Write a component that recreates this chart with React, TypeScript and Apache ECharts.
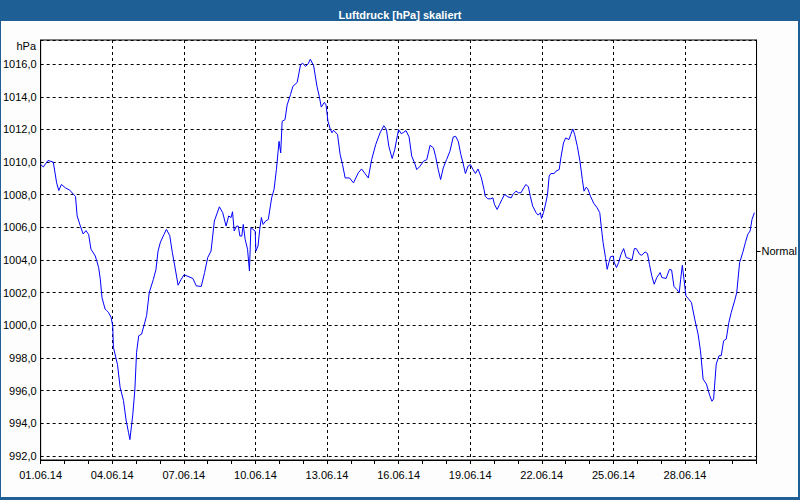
import React, { useEffect, useRef } from "react";
import * as echarts from "echarts";

// time in days since 01.06.14 00:00
const dayOffsets: number[] = [
  0.0, 0.11, 0.31, 0.53, 0.67, 0.76, 0.87, 1.04, 1.22, 1.39, 1.46, 1.53, 1.66, 1.78, 1.9, 2.01, 2.11, 2.29, 2.43, 2.5,
  2.57, 2.7, 2.77, 2.84, 2.95, 3.02, 3.05, 3.22, 3.33, 3.47, 3.58, 3.68, 3.74, 3.86, 3.95, 4.02, 4.11, 4.23, 4.37, 4.44,
  4.55, 4.72, 4.83, 4.92, 5.02, 5.17, 5.27, 5.41, 5.52, 5.62, 5.76, 5.89, 6.01, 6.17, 6.38, 6.52, 6.73, 6.87, 7.0, 7.14,
  7.28, 7.49, 7.63, 7.77, 7.88, 7.98, 8.04, 8.11, 8.21, 8.28, 8.35, 8.43, 8.49, 8.57, 8.67, 8.75, 8.81, 8.9, 8.99, 9.02,
  9.11, 9.18, 9.25, 9.32, 9.43, 9.54, 9.68, 9.78, 9.88, 9.99, 10.06, 10.12, 10.24, 10.33, 10.47, 10.57, 10.75, 10.89, 10.98, 11.1,
  11.21, 11.3, 11.44, 11.58, 11.68, 11.76, 11.89, 11.96, 12.04, 12.14, 12.21, 12.27, 12.44, 12.55, 12.65, 12.76, 12.94, 13.11, 13.31, 13.45,
  13.59, 13.73, 13.87, 14.04, 14.22, 14.38, 14.49, 14.59, 14.73, 14.84, 14.95,
  15.0, 15.11, 15.21, 15.31, 15.44, 15.55, 15.67, 15.76, 15.9, 16.04, 16.18, 16.32, 16.46, 16.55, 16.66, 16.76, 16.87, 17.01, 17.15, 17.29,
  17.39, 17.5, 17.61, 17.7, 17.8, 17.91, 18.01, 18.12, 18.22, 18.33, 18.47, 18.58, 18.63, 18.74, 18.86, 18.95, 19.02, 19.13, 19.23, 19.33,
  19.44, 19.58, 19.72, 19.79, 19.92, 20.02, 20.13, 20.24, 20.34, 20.44, 20.52, 20.62, 20.76, 20.85, 20.94, 20.99, 21.07, 21.17, 21.24, 21.31,
  21.38, 21.52, 21.59, 21.73, 21.8, 21.91, 22.0, 22.14, 22.21, 22.3, 22.38, 22.49, 22.6, 22.7, 22.77, 22.86, 22.93, 23.04, 23.18, 23.32,
  23.43, 23.49, 23.57, 23.67, 23.74, 23.81, 23.88, 23.99, 24.04, 24.13, 24.22, 24.32, 24.43, 24.54, 24.68, 24.78, 24.88, 24.96, 25.1, 25.19,
  25.33, 25.43, 25.51, 25.61, 25.71, 25.82, 25.96, 26.03, 26.21, 26.35, 26.44, 26.54, 26.65, 26.76, 26.82, 26.89, 26.96, 27.04, 27.14, 27.27,
  27.41, 27.55, 27.65, 27.76, 27.9, 28.04, 28.13, 28.2, 28.31, 28.43, 28.52, 28.62, 28.73, 28.84, 28.94, 29.08, 29.17, 29.29, 29.42, 29.53,
  29.63, 29.73, 29.81, 29.91,
];

// air pressure in hPa
const pressure: number[] = [
  1009.85, 1009.7, 1010.1, 1010.0, 1008.73, 1008.26, 1008.63, 1008.42, 1008.28, 1008.0, 1007.9, 1006.7, 1006.1, 1005.6, 1005.8, 1005.57, 1004.66, 1004.25, 1003.54, 1002.83,
  1001.7, 1001.0, 1000.9, 1000.8, 1000.5, 999.97, 998.65, 997.6, 996.2, 995.4, 994.2, 993.45, 993.0, 994.5, 996.1, 998.34, 999.36, 999.46, 1000.2, 1000.6,
  1002.0, 1002.8, 1003.4, 1004.55, 1005.1, 1005.57, 1005.88, 1005.5, 1004.45, 1003.64, 1002.46, 1002.82, 1003.1, 1003.0, 1002.87, 1002.42, 1002.38, 1003.23, 1004.15, 1004.55,
  1006.39, 1007.26, 1006.9, 1006.08, 1006.7, 1006.6, 1006.96, 1005.78, 1006.08, 1006.08, 1005.47, 1005.47, 1006.18, 1005.27, 1004.66, 1003.33, 1005.98, 1005.88, 1005.78, 1004.55,
  1004.86, 1005.88, 1006.6, 1006.18, 1006.39, 1006.49, 1007.81, 1008.32, 1009.54, 1011.27, 1010.56, 1012.5, 1012.6, 1013.5, 1014.13, 1014.64, 1014.88, 1015.96, 1016.06, 1015.86,
  1016.02, 1016.3, 1015.9, 1014.64, 1014.0, 1013.37, 1013.66, 1013.5, 1012.5, 1012.0, 1011.8, 1011.95, 1011.7, 1010.46, 1009.85, 1009.03, 1009.03, 1008.73, 1009.34, 1009.58,
  1009.3, 1009.03, 1010.15, 1011.07, 1011.78, 1012.23, 1012.0, 1010.97, 1010.22, 1010.77, 1011.62,
  1011.99, 1011.74, 1011.82, 1011.93, 1011.54, 1010.36, 1009.95, 1009.54, 1009.75, 1010.05, 1010.15, 1011.03, 1010.87, 1010.36, 1009.54, 1008.93, 1009.64, 1010.15, 1010.66, 1011.54,
  1011.58, 1011.27, 1010.46, 1009.95, 1009.3, 1009.75, 1009.85, 1009.54, 1009.3, 1009.58, 1009.03, 1008.32, 1007.91, 1007.75, 1007.75, 1007.81, 1007.4, 1007.1, 1007.4, 1007.71,
  1008.02, 1007.87, 1007.81, 1008.02, 1008.22, 1008.12, 1008.12, 1008.42, 1008.63, 1008.48, 1007.91, 1007.3, 1006.9, 1006.75, 1006.9, 1006.55, 1006.9, 1007.5, 1008.02, 1009.14,
  1009.3, 1009.3, 1009.44, 1009.54, 1010.26, 1011.17, 1011.48, 1011.38, 1011.68, 1012.03, 1011.68, 1010.97, 1010.05, 1008.93, 1008.22, 1008.46, 1008.36, 1007.91, 1007.47, 1007.2,
  1006.9, 1006.08, 1005.06, 1004.15, 1003.43, 1003.84, 1004.2, 1004.25, 1003.84, 1003.54, 1003.84, 1004.35, 1004.7, 1004.15, 1004.09, 1004.0, 1004.7, 1004.7, 1004.35, 1004.29,
  1004.5, 1004.4, 1003.74, 1003.03, 1002.52, 1002.93, 1003.23, 1002.93, 1002.87, 1003.43, 1003.39, 1002.38, 1002.21, 1002.0, 1002.82, 1003.68, 1002.82, 1001.8, 1001.64, 1001.4,
  1000.38, 999.46, 998.44, 996.71, 996.4, 995.69, 995.35, 995.49, 997.63, 998.14, 998.14, 999.05, 999.16, 1000.18, 1000.79, 1001.5, 1002.0, 1003.84, 1004.45, 1005.06,
  1005.57, 1005.78, 1006.49, 1006.9,
];

const titleText = "Luftdruck [hPa] skaliert";
const unitLabel = "hPa";
const normalLabel = "Normal";
const normalPressure = [1004.55];
const yRange = [991.75, 1017.48];
const xRange = [0, 30];
const monthSuffix = ".06.14";

const FONT = "'Liberation Sans', Arial, sans-serif";

export default function App() {
  const ref = useRef<HTMLDivElement>(null);

  useEffect(() => {
    if (!ref.current) return;
    const chart = echarts.init(ref.current, null, { renderer: "svg" });
    const data = dayOffsets.map((d, i) => [d, pressure[i]]);
    const fmtY = (v: number) => {
      if (Math.abs(v / 2 - Math.round(v / 2)) > 1e-6) return "";
      return v.toFixed(1).replace(".", ",");
    };
    const fmtX = (v: number) => {
      if (v >= 30) return "";
      const day = Math.round(v) + 1;
      return String(day).padStart(2, "0") + monthSuffix;
    };
    chart.setOption({
      animation: false,
      backgroundColor: "#1E6096",
      textStyle: { fontFamily: FONT },
      title: {
        text: titleText,
        left: "center",
        top: 4,
        textStyle: { color: "#FFFFFF", fontSize: 11, fontWeight: "bold", fontFamily: FONT },
      },
      graphic: [
        {
          type: "rect",
          z: -10,
          silent: true,
          shape: { x: 1, y: 21, width: 797, height: 476 },
          style: { fill: "#FCFDFC" },
        },
        {
          type: "text",
          x: 36,
          y: 46,
          silent: true,
          style: {
            text: unitLabel,
            fill: "#000000",
            font: "11px " + FONT,
            align: "right",
            verticalAlign: "middle",
          },
        },
      ],
      grid: {
        left: 40,
        right: 40,
        top: 40,
        bottom: 40,
        show: true,
        backgroundColor: "#FFFFFF",
        borderColor: "#000000",
        borderWidth: 1,
      },
      xAxis: {
        type: "value",
        min: xRange[0],
        max: xRange[1],
        interval: 3,
        axisLine: { show: true, lineStyle: { color: "#000000", width: 1 } },
        axisTick: { show: true, length: 4, lineStyle: { color: "#000000" } },
        minorTick: { show: true, splitNumber: 3, length: 4, lineStyle: { color: "#000000" } },
        minorSplitLine: { show: false },
        axisLabel: { formatter: fmtX, color: "#000000", fontSize: 11, margin: 9, fontFamily: FONT, showMaxLabel: false },
        splitLine: { show: true, lineStyle: { color: "#000000", type: [3, 3], width: 1 } },
      },
      yAxis: [
        {
          type: "value",
          min: yRange[0],
          max: yRange[1],
          splitNumber: 12,
          minInterval: 2,
          maxInterval: 2,
          axisLine: { show: true, lineStyle: { color: "#000000", width: 1 } },
          axisTick: { show: false },
          axisLabel: { formatter: fmtY, color: "#000000", fontSize: 11, margin: 4, fontFamily: FONT },
          splitLine: { show: true, lineStyle: { color: "#000000", type: [3, 3], width: 1 } },
        },
        {
          type: "value",
          position: "right",
          min: yRange[0],
          max: yRange[1],
          axisLine: { show: true, lineStyle: { color: "#000000", width: 1 } },
          axisTick: { show: true, length: 4, customValues: normalPressure, lineStyle: { color: "#000000" } },
          axisLabel: {
            show: true,
            customValues: normalPressure,
            formatter: () => normalLabel,
            color: "#000000",
            fontSize: 11,
            margin: 5,
            fontFamily: FONT,
          },
          splitLine: { show: false },
        },
      ],
      series: [
        {
          type: "line",
          data,
          yAxisIndex: 0,
          showSymbol: false,
          symbol: "none",
          lineStyle: { color: "#0000FF", width: 1 },
          z: 5,
        },
      ],
    });
    return () => chart.dispose();
  }, []);

  return (
    <div
      ref={ref}
      style={{ position: "fixed", left: 0, top: 0, width: 800, height: 500 }}
    />
  );
}
